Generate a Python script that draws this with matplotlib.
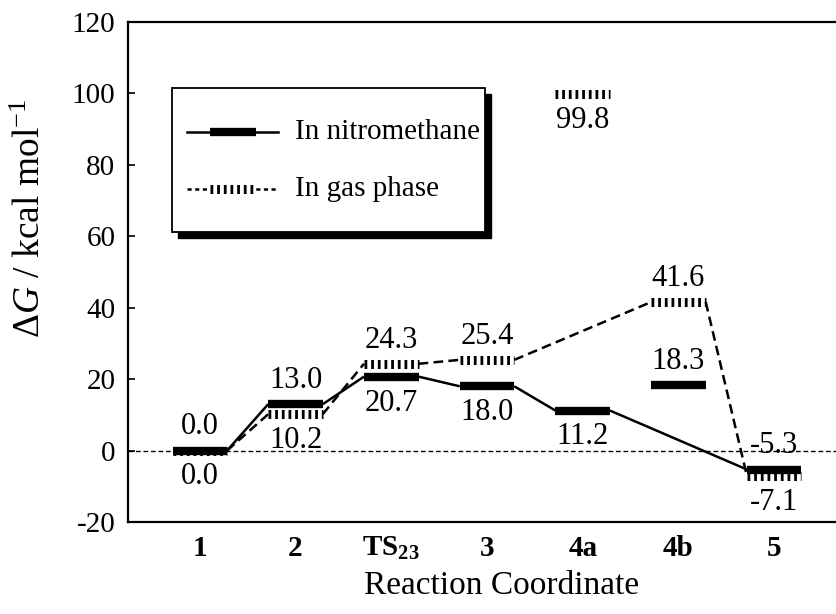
import matplotlib
matplotlib.use("Agg")
import matplotlib.pyplot as plt
from matplotlib.patches import Rectangle
from matplotlib.lines import Line2D

plt.rcParams['font.family'] = ['Liberation Serif', 'DejaVu Serif']
plt.rcParams['mathtext.fontset'] = 'custom'
plt.rcParams['mathtext.rm'] = 'Liberation Serif'
plt.rcParams['mathtext.it'] = 'Liberation Serif:italic'
plt.rcParams['mathtext.bf'] = 'Liberation Serif:bold'
plt.rcParams['lines.scale_dashes'] = False

# ---- data ----
categories = ["1", "2", r"$\mathbf{TS}_{\mathbf{23}}$", "3", "4a", "4b", "5"]
nitro = [0.0, 13.0, 20.7, 18.0, 11.2, 18.3, -5.3]
gas = [0.0, 10.2, 24.3, 25.4, 99.8, 41.6, -7.1]
nitro_links = [(0, 1), (1, 2), (2, 3), (3, 4), (4, 6)]
gas_links = [(0, 1), (1, 2), (2, 3), (3, 5), (5, 6)]
nitro_label_pos = ["above", "above", "below", "below", "below", "above", "above"]
gas_label_pos = ["below", "below", "above", "above", "below", "above", "below"]
legend_labels = ["In nitromethane", "In gas phase"]
yticks = [-20, 0, 20, 40, 60, 80, 100, 120]

W, H = 837, 614
fig = plt.figure(figsize=(W / 100, H / 100), dpi=100)
ax_left, ax_right, ax_top, ax_bot = 128, 846, 22, 522
ax = fig.add_axes([ax_left / W, (H - ax_bot) / H, (ax_right - ax_left) / W, (ax_bot - ax_top) / H])

xs = list(range(1, len(categories) + 1))
hw = 0.285

ax.set_xlim(0.25, 7.75)
ax.set_ylim(-20, 120)

# zero line
ax.axhline(0, color='black', lw=1.0, linestyle=(0, (3.4, 2.0)), zorder=1)

# connecting lines
for a, b in nitro_links:
    ax.plot([xs[a] + hw, xs[b] - hw], [nitro[a], nitro[b]], color='black', lw=1.8,
            solid_capstyle='butt', zorder=2)
for a, b in gas_links:
    ax.plot([xs[a] + hw, xs[b] - hw], [gas[a], gas[b]], color='black', lw=1.8,
            linestyle=(0, (7.0, 3.8)), dash_capstyle='butt', zorder=2)

# levels
for x, v in zip(xs, nitro):
    ax.plot([x - hw, x + hw], [v, v], color='black', lw=6.0, solid_capstyle='butt', zorder=4)
for x, v in zip(xs, gas):
    ax.plot([x - hw, x + hw], [v, v], color='black', lw=6.5, linestyle=(0, (2.0, 2.8)),
            dash_capstyle='butt', zorder=3)

# value labels
def put(x, v, pos):
    off = 17 if pos == "above" else -19
    ax.annotate(f"{v:.1f}", (x, v), xytext=(0, off), textcoords='offset points',
                ha='center', va='center', fontsize=22, zorder=5)

for x, v, p in zip(xs, nitro, nitro_label_pos):
    put(x, v, p)
for x, v, p in zip(xs, gas, gas_label_pos):
    put(x, v, p)

# axes styling
ax.set_xticks(xs)
ax.set_xticklabels(categories, fontsize=21, fontweight='bold')
ax.tick_params(axis='x', length=0, pad=9)
ax.set_yticks(yticks)
ax.set_yticklabels([str(t) for t in yticks], fontsize=21)
ax.tick_params(axis='y', direction='in', length=5, width=1.2, pad=9)
for s in ['left', 'bottom', 'top', 'right']:
    ax.spines[s].set_linewidth(1.6)

ax.set_xlabel("Reaction Coordinate", fontsize=24)
ax.xaxis.set_label_coords((502 - ax_left) / (ax_right - ax_left), (ax_bot - 571) / (ax_bot - ax_top))
ax.set_ylabel(r"$\Delta G$ / kcal mol$^{-1}$", fontsize=27)
ax.yaxis.set_label_coords((48 - ax_left) / (ax_right - ax_left), (ax_bot - 218) / (ax_bot - ax_top))

# legend (drawn manually in axes fraction coordinates)
def fx(px):
    return (px - ax_left) / (ax_right - ax_left)

def fy(py):
    return (ax_bot - py) / (ax_bot - ax_top)

lx0, lx1, ly0, ly1 = 172, 485, 88, 232
sh = 6
ax.add_patch(Rectangle((fx(lx0 + sh), fy(ly1 + sh)), fx(lx1 + sh) - fx(lx0 + sh), fy(ly0 + sh) - fy(ly1 + sh),
                       transform=ax.transAxes, facecolor='black', edgecolor='black', zorder=8))
ax.add_patch(Rectangle((fx(lx0), fy(ly1)), fx(lx1) - fx(lx0), fy(ly0) - fy(ly1),
                       transform=ax.transAxes, facecolor='white', edgecolor='black', lw=1.3, zorder=9))
for i, (lab, yy) in enumerate(zip(legend_labels, [132, 189])):
    if i == 0:
        ax.add_line(Line2D([fx(187), fx(278)], [fy(yy), fy(yy)], transform=ax.transAxes,
                           color='black', lw=1.8, zorder=10))
        ax.add_line(Line2D([fx(210), fx(256)], [fy(yy), fy(yy)], transform=ax.transAxes,
                           color='black', lw=6.0, solid_capstyle='butt', zorder=11))
    else:
        ax.add_line(Line2D([fx(187), fx(278)], [fy(yy), fy(yy)], transform=ax.transAxes,
                           color='black', lw=1.8, linestyle=(0, (3.0, 2.5)), zorder=10))
        ax.add_line(Line2D([fx(210), fx(256)], [fy(yy), fy(yy)], transform=ax.transAxes,
                           color='white', lw=7.0, solid_capstyle='butt', zorder=11))
        ax.add_line(Line2D([fx(210), fx(256)], [fy(yy), fy(yy)], transform=ax.transAxes,
                           color='black', lw=6.5, linestyle=(0, (2.0, 2.8)), dash_capstyle='butt', zorder=12))
    ax.text(fx(295), fy(yy), lab, transform=ax.transAxes, fontsize=21, va='center', ha='left', zorder=12)

fig.savefig("out.png", dpi=100)
